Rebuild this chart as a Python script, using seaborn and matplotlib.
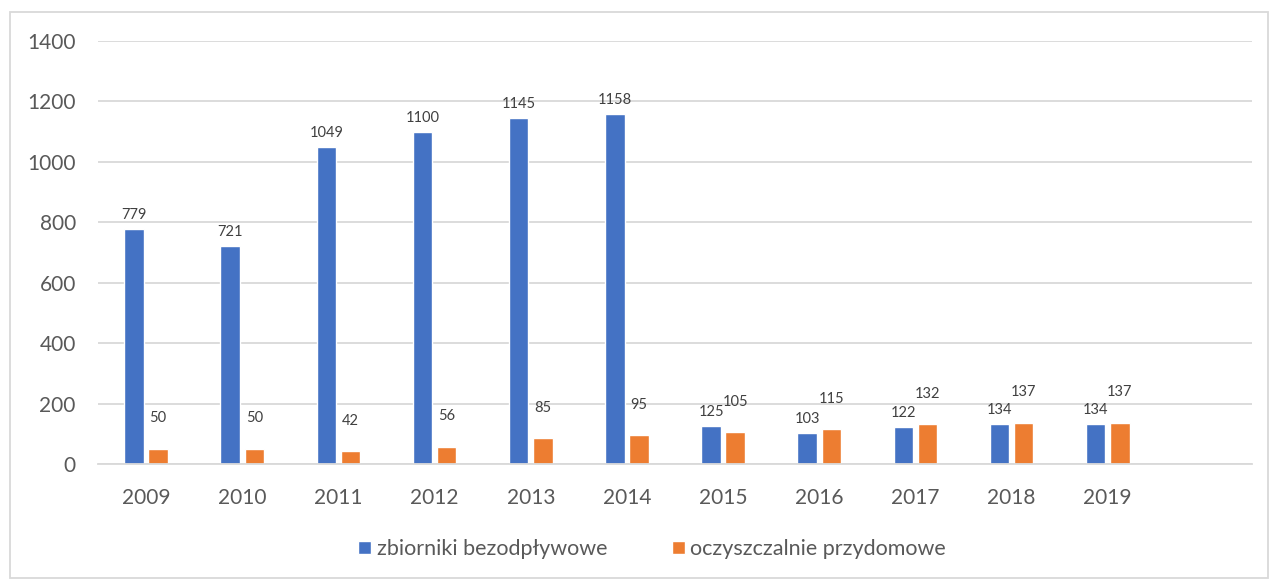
import pandas as pd
import matplotlib
matplotlib.use('Agg')
import matplotlib.pyplot as plt
import seaborn as sns
from matplotlib.patches import Rectangle

years = ['2009', '2010', '2011', '2012', '2013', '2014', '2015', '2016', '2017', '2018', '2019']
zbiorniki = [779, 721, 1049, 1100, 1145, 1158, 125, 103, 122, 134, 134]
oczyszczalnie = [50, 50, 42, 56, 85, 95, 105, 115, 132, 137, 137]
series = ['zbiorniki bezodpływowe', 'oczyszczalnie przydomowe']
colors = ['#4472C4', '#ED7D31']

df = pd.DataFrame({'rok': years * 2,
                   'wartosc': zbiorniki + oczyszczalnie,
                   'seria': [series[0]] * len(years) + [series[1]] * len(years)})

sns.set_style('white')
plt.rcParams['font.family'] = ['Lato', 'DejaVu Sans']

fig = plt.figure(figsize=(12.75, 5.8), dpi=100)
ax = fig.add_axes([98 / 1275, 116 / 580, 1154 / 1275, 423 / 580])

# extra empty slot on the right, like in the original
order = years + [' ']
sns.barplot(data=df, x='rok', y='wartosc', hue='seria', order=order,
            hue_order=series, palette=colors, width=0.5, gap=0.19,
            saturation=1, ax=ax, legend=True)

ax.set_ylim(0, 1400)
ax.set_yticks(range(0, 1401, 200))
ax.grid(axis='y', color='#d9d9d9', linewidth=1.3)
ax.set_axisbelow(True)
for s in ['top', 'right', 'left']:
    ax.spines[s].set_visible(False)
ax.spines['bottom'].set_color('#d9d9d9')
ax.spines['bottom'].set_linewidth(1.3)
ax.set_xticks(range(len(order)))
ax.set_xticklabels(years + [''])
ax.tick_params(axis='both', length=0, labelsize=15, colors='#595959')
ax.tick_params(axis='x', pad=17)
ax.tick_params(axis='y', pad=16)
ax.set_xlabel('')
ax.set_ylabel('')

ax.bar_label(ax.containers[0], padding=5, fontsize=10.5, color='#404040')
ax.bar_label(ax.containers[1], padding=17, fontsize=10.5, color='#404040')

handles, labels = ax.get_legend_handles_labels()
ax.get_legend().remove()
fig.legend(handles, labels, loc='center', bbox_to_anchor=(652 / 1275, 31 / 580),
           ncol=2, frameon=False, fontsize=15.5, handlelength=0.6, handleheight=0.6,
           handletextpad=0.25, columnspacing=3.0, labelcolor='#595959')

fig.patches.append(Rectangle((10 / 1275, 2 / 580), 1258 / 1275, 566 / 580,
                             transform=fig.transFigure, fill=False,
                             edgecolor='#d9d9d9', linewidth=1.3))

plt.savefig('out.png', dpi=100)
